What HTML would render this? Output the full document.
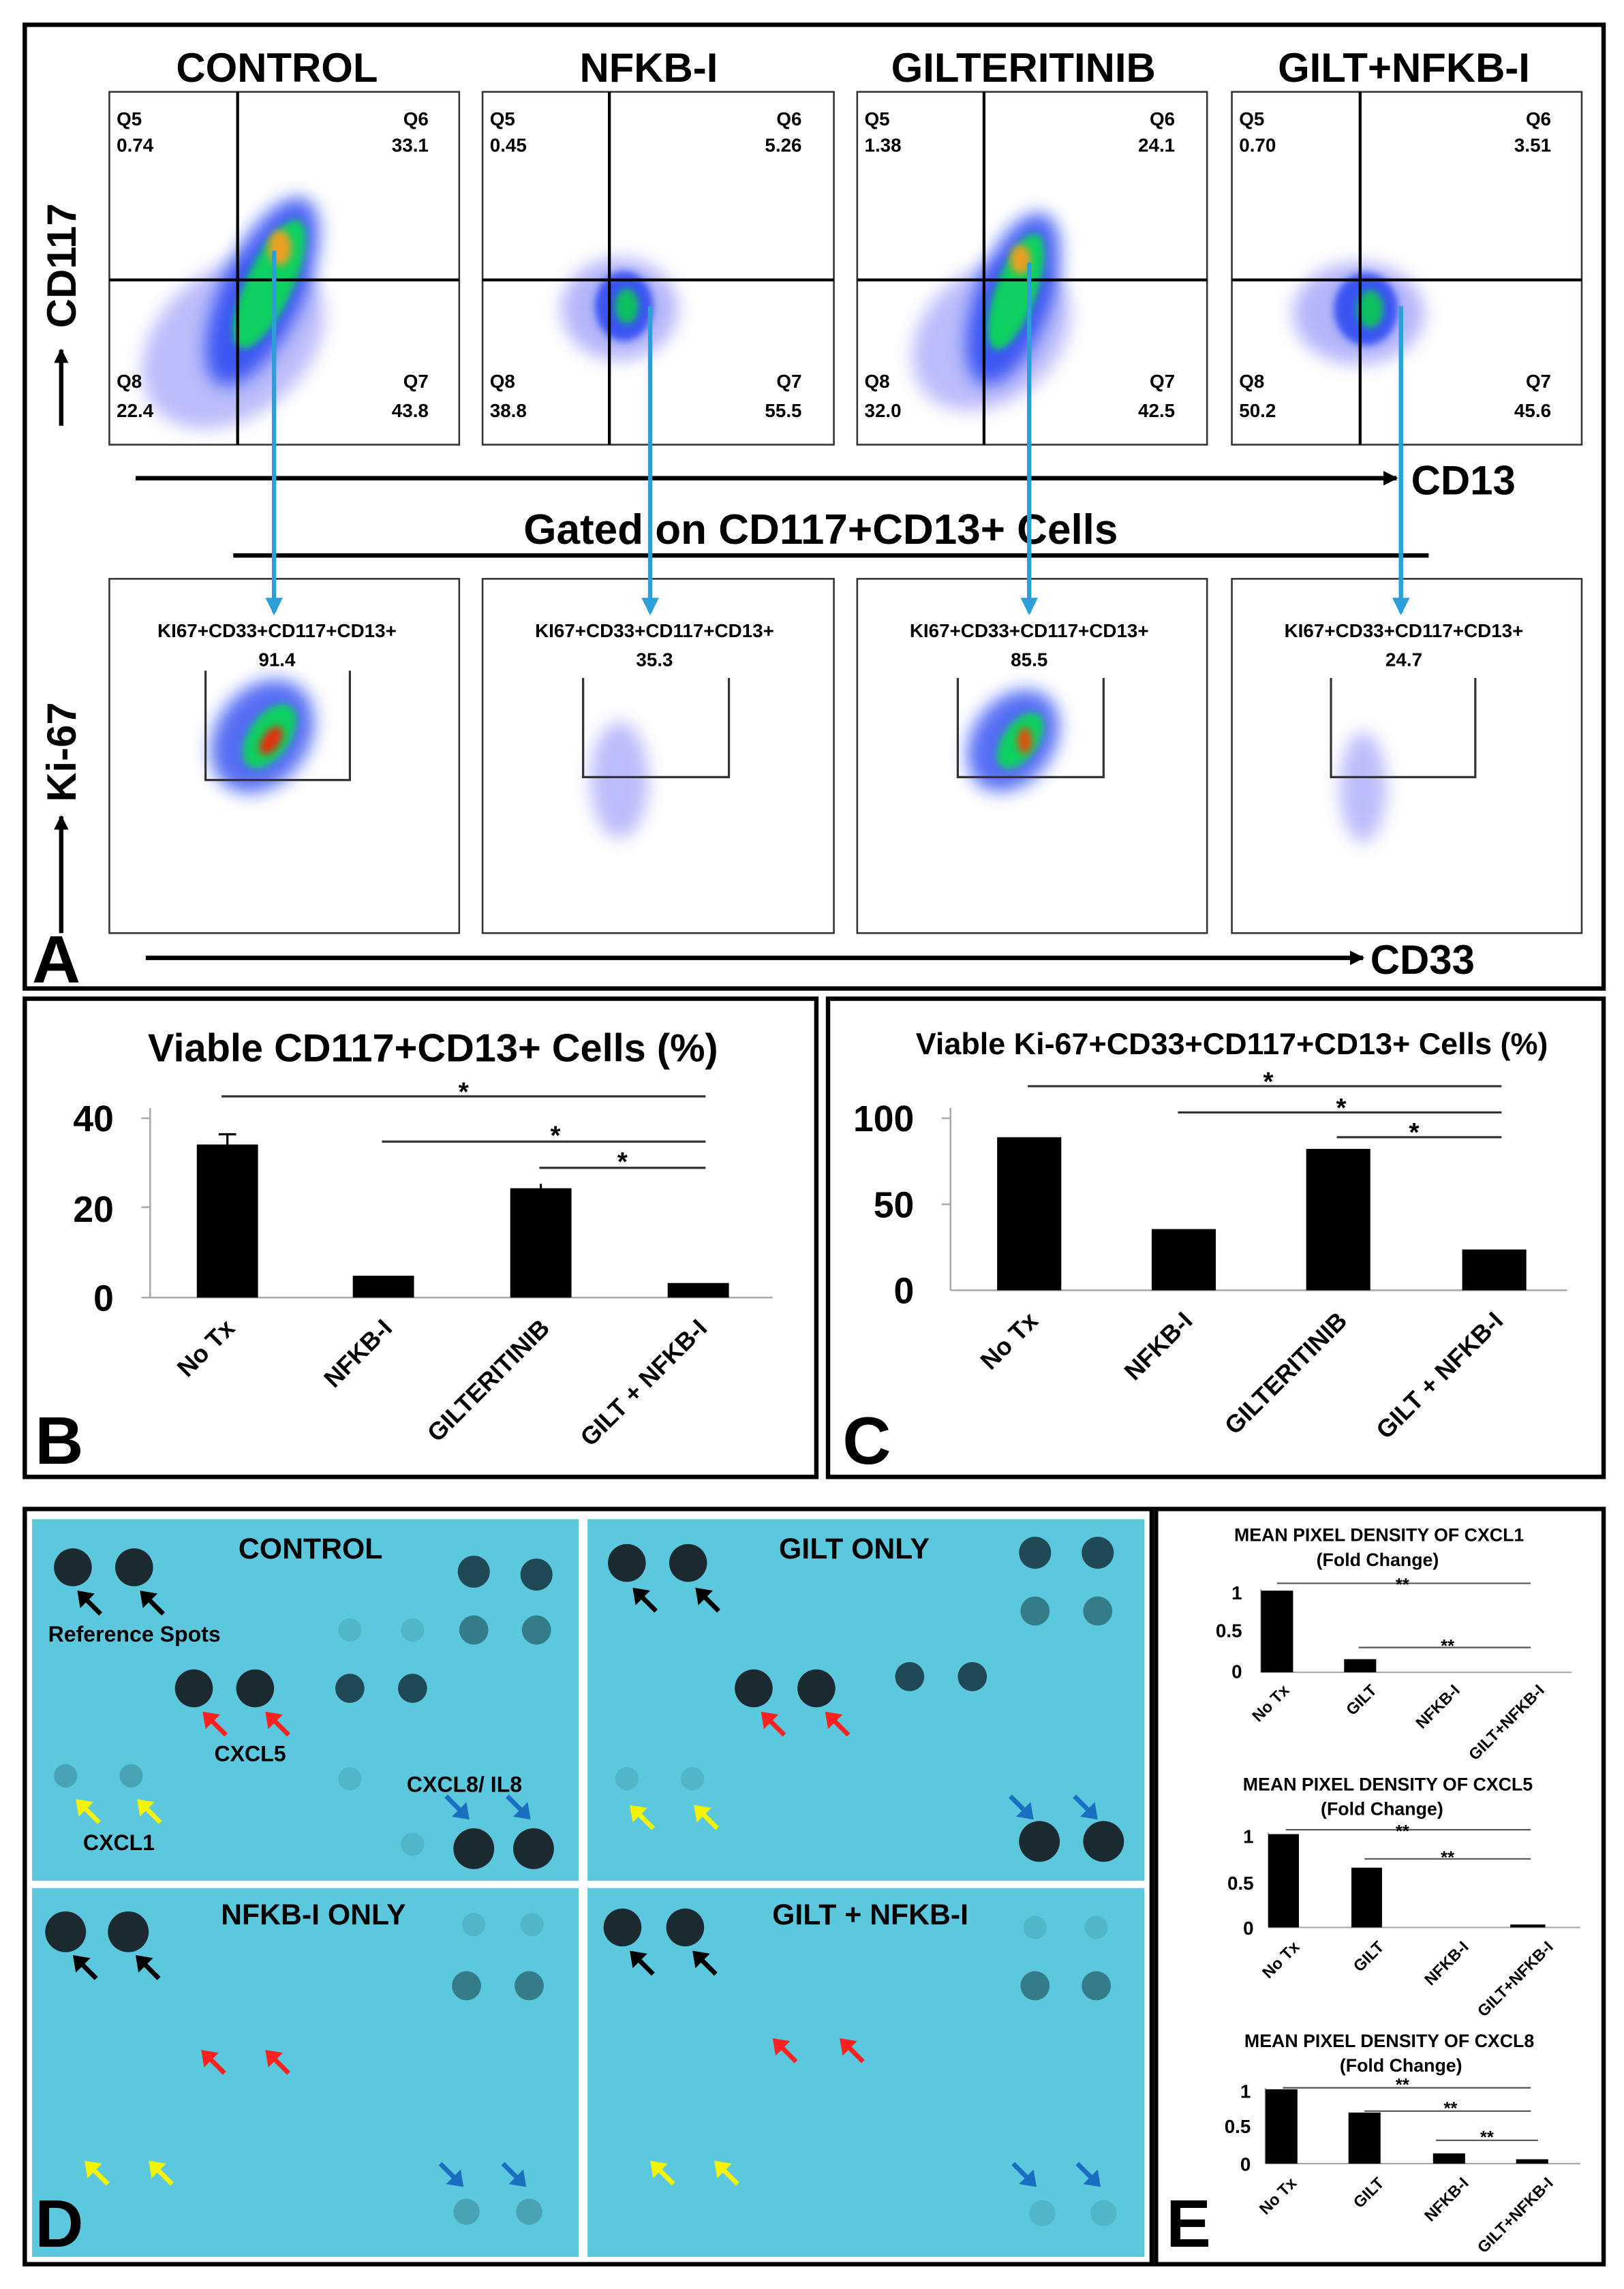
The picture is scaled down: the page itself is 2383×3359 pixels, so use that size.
<!DOCTYPE html>
<html><head><meta charset="utf-8"><style>
html,body{margin:0;padding:0;background:#fff}
svg{display:block}
text{font-family:"Liberation Sans",Arial,sans-serif;font-weight:bold}
</style></head><body>
<svg width="2383" height="3359" viewBox="0 0 1114 1570" preserveAspectRatio="none" xmlns="http://www.w3.org/2000/svg">
<defs>
<filter id="bl" x="-50%" y="-50%" width="200%" height="200%"><feGaussianBlur stdDeviation="6"/></filter>
<filter id="bl2" x="-50%" y="-50%" width="200%" height="200%"><feGaussianBlur stdDeviation="2.5"/></filter>
<symbol id="aul" viewBox="0 0 20 20" overflow="visible"><path d="M16 16 L5 5" stroke="currentColor" stroke-width="3.2"/><path d="M0 0 L12 2 L2 12 Z" fill="currentColor"/></symbol>
<symbol id="adr" viewBox="0 0 20 20" overflow="visible"><path d="M0 0 L11 11" stroke="currentColor" stroke-width="3.2"/><path d="M16 16 L4 14 L14 4 Z" fill="currentColor"/></symbol>
<marker id="ah" markerWidth="10" markerHeight="10" refX="9" refY="5" orient="auto" markerUnits="userSpaceOnUse"><path d="M0 0 L10 5 L0 10 Z" fill="#000"/></marker>
<marker id="bh" markerWidth="12" markerHeight="12" refX="10" refY="6" orient="auto" markerUnits="userSpaceOnUse"><path d="M0 0 L12 6 L0 12 Z" fill="#2a9fd8"/></marker>
</defs>
<rect width="1114" height="1570" fill="#fff"/>

<!-- PANEL A -->
<rect x="17" y="17" width="1083" height="661" fill="none" stroke="#000" stroke-width="3"/>
<g font-size="28" text-anchor="middle">
<text x="190" y="56">CONTROL</text><text x="445" y="56">NFKB-I</text><text x="702" y="56">GILTERITINIB</text><text x="963" y="56">GILT+NFKB-I</text>
</g>

<g>
<g>
<rect x="75" y="63" width="240" height="242" fill="#fff" stroke="#333" stroke-width="1.2"/>
<ellipse cx="160" cy="235" rx="70" ry="50" fill="#6a6cf5" opacity="0.45" filter="url(#bl)" transform="rotate(-40 160 235)"/>
<ellipse cx="180" cy="200" rx="28" ry="70" fill="#1d3cf0" opacity="0.8" filter="url(#bl)" transform="rotate(25 180 200)"/>
<ellipse cx="185" cy="195" rx="16" ry="48" fill="#10d060" filter="url(#bl2)" transform="rotate(25 185 195)"/>
<ellipse cx="192" cy="170" rx="8" ry="12" fill="#e8a020" filter="url(#bl2)"/>
<line x1="163" y1="63" x2="163" y2="305" stroke="#000" stroke-width="2"/>
<line x1="75" y1="192" x2="315" y2="192" stroke="#000" stroke-width="2"/>
<g font-size="13"><text x="80" y="86">Q5</text><text x="80" y="104">0.74</text><text x="294" y="86" text-anchor="end">Q6</text><text x="294" y="104" text-anchor="end">33.1</text>
<text x="80" y="266">Q8</text><text x="80" y="286">22.4</text><text x="294" y="266" text-anchor="end">Q7</text><text x="294" y="286" text-anchor="end">43.8</text></g>
</g>
<g>
<rect x="331" y="63" width="241" height="242" fill="#fff" stroke="#333" stroke-width="1.2"/>
<ellipse cx="425" cy="212" rx="40" ry="35" fill="#6a6cf5" opacity="0.5" filter="url(#bl)"/>
<ellipse cx="428" cy="210" rx="20" ry="24" fill="#1d3cf0" opacity="0.8" filter="url(#bl2)"/>
<ellipse cx="430" cy="210" rx="8" ry="12" fill="#10c060" filter="url(#bl2)"/>
<line x1="418" y1="63" x2="418" y2="305" stroke="#000" stroke-width="2"/>
<line x1="331" y1="192" x2="572" y2="192" stroke="#000" stroke-width="2"/>
<g font-size="13"><text x="336" y="86">Q5</text><text x="336" y="104">0.45</text><text x="550" y="86" text-anchor="end">Q6</text><text x="550" y="104" text-anchor="end">5.26</text>
<text x="336" y="266">Q8</text><text x="336" y="286">38.8</text><text x="550" y="266" text-anchor="end">Q7</text><text x="550" y="286" text-anchor="end">55.5</text></g>
</g>
<g>
<rect x="588" y="63" width="240" height="242" fill="#fff" stroke="#333" stroke-width="1.2"/>
<ellipse cx="680" cy="230" rx="60" ry="45" fill="#6a6cf5" opacity="0.45" filter="url(#bl)" transform="rotate(-40 680 230)"/>
<ellipse cx="695" cy="205" rx="26" ry="62" fill="#1d3cf0" opacity="0.8" filter="url(#bl)" transform="rotate(20 695 205)"/>
<ellipse cx="697" cy="200" rx="14" ry="42" fill="#10d060" filter="url(#bl2)" transform="rotate(20 697 200)"/>
<ellipse cx="700" cy="178" rx="7" ry="10" fill="#e8a020" filter="url(#bl2)"/>
<line x1="675" y1="63" x2="675" y2="305" stroke="#000" stroke-width="2"/>
<line x1="588" y1="192" x2="828" y2="192" stroke="#000" stroke-width="2"/>
<g font-size="13"><text x="593" y="86">Q5</text><text x="593" y="104">1.38</text><text x="806" y="86" text-anchor="end">Q6</text><text x="806" y="104" text-anchor="end">24.1</text>
<text x="593" y="266">Q8</text><text x="593" y="286">32.0</text><text x="806" y="266" text-anchor="end">Q7</text><text x="806" y="286" text-anchor="end">42.5</text></g>
</g>
<g>
<rect x="845" y="63" width="240" height="242" fill="#fff" stroke="#333" stroke-width="1.2"/>
<ellipse cx="932" cy="215" rx="45" ry="35" fill="#6a6cf5" opacity="0.5" filter="url(#bl)"/>
<ellipse cx="937" cy="212" rx="22" ry="25" fill="#1d3cf0" opacity="0.8" filter="url(#bl2)"/>
<ellipse cx="940" cy="212" rx="9" ry="13" fill="#10c060" filter="url(#bl2)"/>
<line x1="933" y1="63" x2="933" y2="305" stroke="#000" stroke-width="2"/>
<line x1="845" y1="192" x2="1085" y2="192" stroke="#000" stroke-width="2"/>
<g font-size="13"><text x="850" y="86">Q5</text><text x="850" y="104">0.70</text><text x="1064" y="86" text-anchor="end">Q6</text><text x="1064" y="104" text-anchor="end">3.51</text>
<text x="850" y="266">Q8</text><text x="850" y="286">50.2</text><text x="1064" y="266" text-anchor="end">Q7</text><text x="1064" y="286" text-anchor="end">45.6</text></g>
</g>
</g>

<text x="0" y="0" font-size="28" transform="translate(52,225) rotate(-90)">CD117</text>
<line x1="42" y1="292" x2="42" y2="240" stroke="#000" stroke-width="3" marker-end="url(#ah)"/>
<line x1="93" y1="328" x2="958" y2="328" stroke="#000" stroke-width="3" marker-end="url(#ah)"/>
<text x="968" y="339" font-size="28">CD13</text>
<text x="563" y="373" font-size="29" text-anchor="middle">Gated on CD117+CD13+ Cells</text>
<line x1="160" y1="381" x2="980" y2="381" stroke="#000" stroke-width="3"/>

<g font-size="13">
<rect x="75" y="397" width="240" height="243" fill="#fff" stroke="#333" stroke-width="1.2"/>
<ellipse cx="180" cy="505" rx="32" ry="42" fill="#1d3cf0" opacity="0.75" filter="url(#bl)" transform="rotate(35 180 505)"/>
<ellipse cx="185" cy="505" rx="14" ry="25" fill="#10d060" filter="url(#bl2)" transform="rotate(35 185 505)"/>
<ellipse cx="186" cy="508" rx="6" ry="11" fill="#e03010" filter="url(#bl2)" transform="rotate(35 186 508)"/>
<path d="M141 460 V535 H240 V460" fill="none" stroke="#333" stroke-width="1.5"/>
<text x="190" y="437" text-anchor="middle">KI67+CD33+CD117+CD13+</text><text x="190" y="457" text-anchor="middle">91.4</text>

<rect x="331" y="397" width="241" height="243" fill="#fff" stroke="#333" stroke-width="1.2"/>
<ellipse cx="425" cy="535" rx="20" ry="40" fill="#6a6cf5" opacity="0.45" filter="url(#bl)"/>
<path d="M400 465 V533 H500 V465" fill="none" stroke="#333" stroke-width="1.5"/>
<text x="449" y="437" text-anchor="middle">KI67+CD33+CD117+CD13+</text><text x="449" y="457" text-anchor="middle">35.3</text>

<rect x="588" y="397" width="240" height="243" fill="#fff" stroke="#333" stroke-width="1.2"/>
<ellipse cx="695" cy="508" rx="28" ry="38" fill="#1d3cf0" opacity="0.75" filter="url(#bl)" transform="rotate(35 695 508)"/>
<ellipse cx="700" cy="508" rx="12" ry="22" fill="#10d060" filter="url(#bl2)" transform="rotate(35 700 508)"/>
<ellipse cx="703" cy="508" rx="5" ry="9" fill="#e05010" filter="url(#bl2)"/>
<path d="M657 465 V533 H757 V465" fill="none" stroke="#333" stroke-width="1.5"/>
<text x="706" y="437" text-anchor="middle">KI67+CD33+CD117+CD13+</text><text x="706" y="457" text-anchor="middle">85.5</text>

<rect x="845" y="397" width="240" height="243" fill="#fff" stroke="#333" stroke-width="1.2"/>
<ellipse cx="935" cy="540" rx="16" ry="38" fill="#6a6cf5" opacity="0.45" filter="url(#bl)"/>
<path d="M913 465 V533 H1012 V465" fill="none" stroke="#333" stroke-width="1.5"/>
<text x="963" y="437" text-anchor="middle">KI67+CD33+CD117+CD13+</text><text x="963" y="457" text-anchor="middle">24.7</text>
</g>
<text x="0" y="0" font-size="28" transform="translate(52,550) rotate(-90)">Ki-67</text>
<line x1="42" y1="640" x2="42" y2="560" stroke="#000" stroke-width="3" marker-end="url(#ah)"/>
<line x1="100" y1="657" x2="935" y2="657" stroke="#000" stroke-width="3" marker-end="url(#ah)"/>
<text x="940" y="668" font-size="28">CD33</text>
<text x="22" y="674" font-size="46">A</text>

<g stroke="#2a9fd8" stroke-width="3">
<line x1="188" y1="172" x2="188" y2="420" marker-end="url(#bh)"/>
<line x1="446" y1="210" x2="446" y2="420" marker-end="url(#bh)"/>
<line x1="706" y1="180" x2="706" y2="420" marker-end="url(#bh)"/>
<line x1="961" y1="210" x2="961" y2="420" marker-end="url(#bh)"/>
</g>

<!-- PANEL B -->
<rect x="17" y="685" width="543" height="328" fill="none" stroke="#000" stroke-width="3"/>
<text x="297" y="728" font-size="27" text-anchor="middle">Viable CD117+CD13+ Cells (%)</text>
<g stroke="#aaa" stroke-width="1.2"><line x1="103" y1="760" x2="103" y2="890"/><line x1="103" y1="890" x2="530" y2="890"/>
<line x1="97" y1="767" x2="103" y2="767"/><line x1="97" y1="828" x2="103" y2="828"/><line x1="97" y1="890" x2="103" y2="890"/></g>
<g font-size="25" text-anchor="end"><text x="78" y="776">40</text><text x="78" y="838">20</text><text x="78" y="899">0</text></g>
<g fill="#000"><rect x="135" y="785" width="42" height="105"/><rect x="242" y="875" width="42" height="15"/><rect x="350" y="815" width="42" height="75"/><rect x="458" y="880" width="42" height="10"/></g>
<g stroke="#000" stroke-width="1.5"><line x1="156" y1="778" x2="156" y2="785"/><line x1="150" y1="778" x2="162" y2="778"/><line x1="371" y1="812" x2="371" y2="815"/></g>
<g stroke="#333" stroke-width="1.5"><line x1="152" y1="752" x2="484" y2="752"/><line x1="262" y1="783" x2="484" y2="783"/><line x1="370" y1="801" x2="484" y2="801"/></g>
<g font-size="18" text-anchor="middle"><text x="318" y="755">*</text><text x="381" y="785">*</text><text x="427" y="803">*</text></g>
<g font-size="17" text-anchor="end">
<text transform="translate(162,912) rotate(-45)">No Tx</text>
<text transform="translate(270,912) rotate(-45)">NFKB-I</text>
<text transform="translate(378,912) rotate(-45)">GILTERITINIB</text>
<text transform="translate(486,912) rotate(-45)">GILT + NFKB-I</text>
</g>
<text x="24" y="1004" font-size="46">B</text>

<!-- PANEL C -->
<rect x="568" y="685" width="532" height="328" fill="none" stroke="#000" stroke-width="3"/>
<text x="845" y="723" font-size="21" text-anchor="middle">Viable Ki-67+CD33+CD117+CD13+ Cells (%)</text>
<g stroke="#aaa" stroke-width="1.2"><line x1="652" y1="760" x2="652" y2="885"/><line x1="652" y1="885" x2="1075" y2="885"/>
<line x1="646" y1="767" x2="652" y2="767"/><line x1="646" y1="826" x2="652" y2="826"/></g>
<g font-size="25" text-anchor="end"><text x="627" y="776">100</text><text x="627" y="835">50</text><text x="627" y="894">0</text></g>
<g fill="#000"><rect x="684" y="780" width="44" height="105"/><rect x="790" y="843" width="44" height="42"/><rect x="896" y="788" width="44" height="97"/><rect x="1003" y="857" width="44" height="28"/></g>
<g stroke="#333" stroke-width="1.5"><line x1="705" y1="745" x2="1030" y2="745"/><line x1="808" y1="763" x2="1030" y2="763"/><line x1="917" y1="780" x2="1030" y2="780"/></g>
<g font-size="18" text-anchor="middle"><text x="870" y="748">*</text><text x="920" y="766">*</text><text x="970" y="783">*</text></g>
<g font-size="17" text-anchor="end">
<text transform="translate(713,907) rotate(-45)">No Tx</text>
<text transform="translate(819,907) rotate(-45)">NFKB-I</text>
<text transform="translate(925,907) rotate(-45)">GILTERITINIB</text>
<text transform="translate(1032,907) rotate(-45)">GILT + NFKB-I</text>
</g>
<text x="578" y="1004" font-size="46">C</text>

<!-- PANEL D -->
<rect x="17" y="1035" width="773" height="518" fill="#fff" stroke="#000" stroke-width="3"/>
<g fill="#5cc8de">
<rect x="22" y="1042" width="375" height="248"/><rect x="403" y="1042" width="382" height="248"/>
<rect x="22" y="1295" width="375" height="253"/><rect x="403" y="1295" width="382" height="253"/>
</g>
<g font-size="20" text-anchor="middle"><text x="213" y="1069">CONTROL</text><text x="586" y="1069">GILT ONLY</text><text x="215" y="1320">NFKB-I ONLY</text><text x="597" y="1320">GILT + NFKB-I</text></g>
<g fill="#1a2a30">
<circle cx="50" cy="1075" r="13"/><circle cx="92" cy="1075" r="13"/><circle cx="133" cy="1158" r="13"/><circle cx="175" cy="1158" r="13"/>
<circle cx="325" cy="1268" r="14"/><circle cx="366" cy="1268" r="14"/>
<circle cx="430" cy="1072" r="13"/><circle cx="472" cy="1072" r="13"/><circle cx="517" cy="1158" r="13"/><circle cx="560" cy="1158" r="13"/>
<circle cx="713" cy="1263" r="14"/><circle cx="757" cy="1263" r="14"/>
<circle cx="45" cy="1325" r="14"/><circle cx="88" cy="1325" r="14"/>
<circle cx="427" cy="1322" r="13"/><circle cx="470" cy="1322" r="13"/>
</g>
<g fill="#1f4a55">
<circle cx="325" cy="1078" r="11"/><circle cx="368" cy="1080" r="11"/><circle cx="710" cy="1065" r="11"/><circle cx="753" cy="1065" r="11"/>
<circle cx="240" cy="1158" r="10"/><circle cx="283" cy="1158" r="10"/><circle cx="624" cy="1150" r="10"/><circle cx="667" cy="1150" r="10"/>
</g>
<g fill="#347c8a">
<circle cx="325" cy="1118" r="10"/><circle cx="368" cy="1118" r="10"/><circle cx="710" cy="1105" r="10"/><circle cx="753" cy="1105" r="10"/>
<circle cx="320" cy="1362" r="10"/><circle cx="363" cy="1362" r="10"/><circle cx="710" cy="1362" r="10"/><circle cx="752" cy="1362" r="10"/>
</g>
<g fill="#4aa3b4">
<circle cx="45" cy="1218" r="8"/><circle cx="90" cy="1218" r="8"/>
<circle cx="320" cy="1517" r="9"/><circle cx="363" cy="1517" r="9"/>
</g>
<g fill="#52b6c9">
<circle cx="240" cy="1118" r="8"/><circle cx="283" cy="1118" r="8"/><circle cx="240" cy="1220" r="8"/><circle cx="283" cy="1265" r="8"/>
<circle cx="430" cy="1220" r="8"/><circle cx="475" cy="1220" r="8"/>
<circle cx="325" cy="1320" r="8"/><circle cx="365" cy="1320" r="8"/><circle cx="710" cy="1322" r="8"/><circle cx="752" cy="1322" r="8"/>
<circle cx="715" cy="1518" r="9"/><circle cx="757" cy="1518" r="9"/>
</g>
<g color="#000">
<use href="#aul" x="53" y="1091" width="20" height="20"/><use href="#aul" x="96" y="1091" width="20" height="20"/>
<use href="#aul" x="434" y="1089" width="20" height="20"/><use href="#aul" x="477" y="1089" width="20" height="20"/>
<use href="#aul" x="50" y="1341" width="20" height="20"/><use href="#aul" x="93" y="1341" width="20" height="20"/>
<use href="#aul" x="432" y="1338" width="20" height="20"/><use href="#aul" x="475" y="1338" width="20" height="20"/>
</g>
<g color="#ff2020">
<use href="#aul" x="139" y="1174" width="20" height="20"/><use href="#aul" x="182" y="1174" width="20" height="20"/>
<use href="#aul" x="522" y="1174" width="20" height="20"/><use href="#aul" x="566" y="1174" width="20" height="20"/>
<use href="#aul" x="138" y="1406" width="20" height="20"/><use href="#aul" x="182" y="1406" width="20" height="20"/>
<use href="#aul" x="530" y="1398" width="20" height="20"/><use href="#aul" x="576" y="1398" width="20" height="20"/>
</g>
<g color="#f4f400">
<use href="#aul" x="52" y="1234" width="20" height="20"/><use href="#aul" x="94" y="1234" width="20" height="20"/>
<use href="#aul" x="432" y="1238" width="20" height="20"/><use href="#aul" x="476" y="1238" width="20" height="20"/>
<use href="#aul" x="58" y="1482" width="20" height="20"/><use href="#aul" x="102" y="1482" width="20" height="20"/>
<use href="#aul" x="446" y="1482" width="20" height="20"/><use href="#aul" x="490" y="1482" width="20" height="20"/>
</g>
<g color="#1a6fc0">
<use href="#adr" x="306" y="1232" width="20" height="20"/><use href="#adr" x="348" y="1232" width="20" height="20"/>
<use href="#adr" x="693" y="1232" width="20" height="20"/><use href="#adr" x="737" y="1232" width="20" height="20"/>
<use href="#adr" x="302" y="1484" width="20" height="20"/><use href="#adr" x="345" y="1484" width="20" height="20"/>
<use href="#adr" x="695" y="1484" width="20" height="20"/><use href="#adr" x="739" y="1484" width="20" height="20"/>
</g>
<g font-size="15"><text x="33" y="1126">Reference Spots</text><text x="147" y="1208">CXCL5</text><text x="57" y="1269">CXCL1</text><text x="279" y="1229">CXCL8/ IL8</text></g>
<text x="24" y="1541" font-size="46">D</text>

<!-- PANEL E -->
<rect x="793" y="1035" width="307" height="518" fill="none" stroke="#000" stroke-width="3"/>
<g font-size="12.5" text-anchor="middle">
<text x="946" y="1057">MEAN PIXEL DENSITY OF CXCL1</text><text x="945" y="1074">(Fold Change)</text>
<text x="952" y="1228">MEAN PIXEL DENSITY OF CXCL5</text><text x="948" y="1245">(Fold Change)</text>
<text x="953" y="1404">MEAN PIXEL DENSITY OF CXCL8</text><text x="961" y="1421">(Fold Change)</text>
</g>
<g stroke="#aaa" stroke-width="1">
<line x1="865" y1="1090" x2="865" y2="1147"/><line x1="865" y1="1147" x2="1078" y2="1147"/>
<line x1="870" y1="1257" x2="870" y2="1322"/><line x1="870" y1="1322" x2="1084" y2="1322"/>
<line x1="868" y1="1432" x2="868" y2="1484"/><line x1="868" y1="1484" x2="1084" y2="1484"/>
</g>
<g font-size="13" text-anchor="end">
<text x="852" y="1097">1</text><text x="852" y="1123">0.5</text><text x="852" y="1151">0</text>
<text x="860" y="1264">1</text><text x="860" y="1296">0.5</text><text x="860" y="1327">0</text>
<text x="858" y="1439">1</text><text x="858" y="1463">0.5</text><text x="858" y="1489">0</text>
</g>
<g fill="#000">
<rect x="865" y="1091" width="22" height="56"/><rect x="922" y="1138" width="22" height="9"/>
<rect x="870" y="1258" width="21" height="64"/><rect x="927" y="1281" width="21" height="41"/><rect x="1036" y="1320" width="24" height="2"/>
<rect x="868" y="1433" width="22" height="51"/><rect x="925" y="1449" width="22" height="35"/><rect x="983" y="1477" width="22" height="7"/><rect x="1040" y="1481" width="22" height="3"/>
</g>
<g stroke="#555" stroke-width="1">
<line x1="876" y1="1086" x2="1050" y2="1086"/><line x1="932" y1="1130" x2="1050" y2="1130"/>
<line x1="882" y1="1255" x2="1050" y2="1255"/><line x1="936" y1="1275" x2="1050" y2="1275"/>
<line x1="880" y1="1432" x2="1050" y2="1432"/><line x1="936" y1="1448" x2="1050" y2="1448"/><line x1="985" y1="1468" x2="1055" y2="1468"/>
</g>
<g font-size="12" text-anchor="middle"><text x="962" y="1091">**</text><text x="993" y="1133">**</text><text x="962" y="1260">**</text><text x="993" y="1278">**</text><text x="962" y="1434">**</text><text x="995" y="1450">**</text><text x="1020" y="1470">**</text></g>
<g font-size="11" text-anchor="end">
<text transform="translate(885,1160) rotate(-45)">No Tx</text><text transform="translate(945,1160) rotate(-45)">GILT</text><text transform="translate(1002,1160) rotate(-45)">NFKB-I</text><text transform="translate(1060,1160) rotate(-45)">GILT+NFKB-I</text>
<text transform="translate(892,1336) rotate(-45)">No Tx</text><text transform="translate(950,1336) rotate(-45)">GILT</text><text transform="translate(1008,1336) rotate(-45)">NFKB-I</text><text transform="translate(1066,1336) rotate(-45)">GILT+NFKB-I</text>
<text transform="translate(890,1498) rotate(-45)">No Tx</text><text transform="translate(950,1498) rotate(-45)">GILT</text><text transform="translate(1008,1498) rotate(-45)">NFKB-I</text><text transform="translate(1066,1498) rotate(-45)">GILT+NFKB-I</text>
</g>
<text x="800" y="1541" font-size="46">E</text>
</svg>
</body></html>
